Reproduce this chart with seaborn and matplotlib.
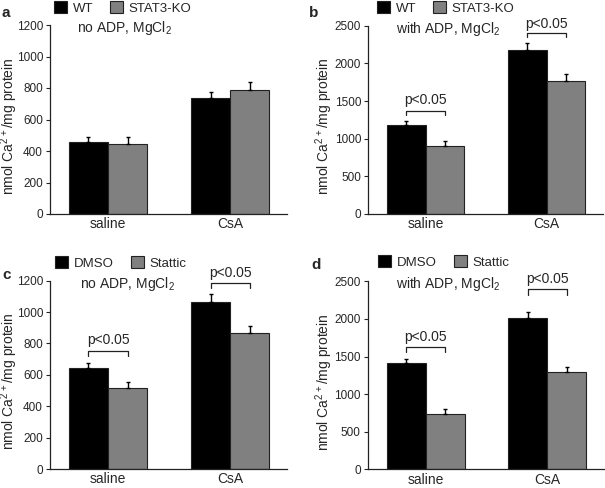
import matplotlib
matplotlib.use("Agg")
import matplotlib.pyplot as plt
import seaborn as sns
import pandas as pd
import numpy as np

sns.set_style("ticks")
plt.rcParams['font.family'] = ['Liberation Sans', 'DejaVu Sans']
plt.rcParams['mathtext.default'] = 'regular'

categories = ["saline", "CsA"]

# panel a
groups_a = ["WT", "STAT3-KO"]
a_wt = [455, 738]
a_ko = [446, 787]
a_wt_err = [32, 35]
a_ko_err = [43, 53]

# panel b
b_wt = [1182, 2174]
b_ko = [903, 1766]
b_wt_err = [57, 97]
b_ko_err = [62, 89]

# panel c
groups_c = ["DMSO", "Stattic"]
c_dm = [645, 1062]
c_st = [514, 866]
c_dm_err = [28, 53]
c_st_err = [38, 43]

# panel d
d_dm = [1413, 2016]
d_st = [739, 1290]
d_dm_err = [50, 80]
d_st_err = [59, 66]

subtitle_no = "no ADP, MgCl$_2$"
subtitle_with = "with ADP, MgCl$_2$"
ylabel = "nmol Ca$^{2+}$/mg protein"
ptext = "p<0.05"

W, H = 605, 488
fig = plt.figure(figsize=(W / 100, H / 100), dpi=100)

def px_axes(x0, x1, ytop, ybot):
    return fig.add_axes([x0 / W, 1 - ybot / H, (x1 - x0) / W, (ybot - ytop) / H])

colors = ["#000000", "#808080"]


def panel(ax, groups, v1, v2, e1, e2, ymax, ystep, subtitle, sub_x, label, lab_xy,
          leg_xy, ylab_x, brackets):
    df = pd.DataFrame({
        "cond": categories * 2,
        "group": [groups[0]] * 2 + [groups[1]] * 2,
        "value": list(v1) + list(v2),
    })
    sns.barplot(data=df, x="cond", y="value", hue="group", order=categories,
                hue_order=groups, palette=colors, width=0.64, errorbar=None,
                edgecolor="#222222", linewidth=0.8, ax=ax, saturation=1)
    bars = [p for p in ax.patches if p.get_width() > 0 and p.get_height() > 0]
    bars = sorted(bars, key=lambda p: p.get_x())
    vals = [v1[0], v2[0], v1[1], v2[1]]
    errs = [e1[0], e2[0], e1[1], e2[1]]
    centers = []
    for p, v, e in zip(bars, vals, errs):
        cx = p.get_x() + p.get_width() / 2
        centers.append(cx)
        ax.errorbar([cx], [v], yerr=[[0], [e]], fmt="none", ecolor="black",
                    elinewidth=1.0, capsize=1.5, capthick=1.0, zorder=3)
    ax.set_ylim(0, ymax)
    ax.set_yticks(np.arange(0, ymax + 1, ystep))
    ax.set_xlim(-0.475, 1.465)
    ax.set_xlabel("")
    ax.set_ylabel(ylabel, fontsize=10)
    ax.yaxis.set_label_coords(ylab_x, 0.466)
    ax.tick_params(axis="y", labelsize=8.5, length=3, width=0.8, pad=2)
    ax.tick_params(axis="x", labelsize=10, length=0, pad=2.5)
    sns.despine(ax=ax)
    for s in ["left", "bottom"]:
        ax.spines[s].set_linewidth(0.9)
        ax.spines[s].set_color("#222222")
    ax.text(sub_x, 0.985, subtitle, transform=ax.transAxes, ha="center",
            va="center", fontsize=10)
    fig.text(lab_xy[0] / W, 1 - lab_xy[1] / H, label, fontsize=11,
             fontweight="bold", ha="left", va="center")
    sns.move_legend(ax, "center left", bbox_to_anchor=(leg_xy[0] / W, 1 - leg_xy[1] / H),
                    bbox_transform=fig.transFigure, ncol=2, frameon=False,
                    title=None, fontsize=9.5, handlelength=1.0, handleheight=1.0,
                    handletextpad=0.4, columnspacing=1.3, borderpad=0,
                    borderaxespad=0)
    for gi, (ytop, ytick, ytxt) in brackets.items():
        xa, xb = centers[2 * gi], centers[2 * gi + 1]
        ax.plot([xa, xa, xb, xb], [ytick, ytop, ytop, ytick], color="#222222",
                lw=0.9, clip_on=False)
        ax.text((xa + xb) / 2, ytxt, ptext, ha="center", va="center",
                fontsize=10, clip_on=False)


ax_a = px_axes(50, 287, 25, 214)
panel(ax_a, groups_a, a_wt, a_ko, a_wt_err, a_ko_err, 1200, 200, subtitle_no, 0.316,
      "a", (2, 13), (54, 8), -0.125, {})

ax_b = px_axes(368, 603, 25.7, 214)
panel(ax_b, groups_a, b_wt, b_ko, b_wt_err, b_ko_err, 2500, 500, subtitle_with, 0.34,
      "b", (309, 13), (377, 8), -0.14,
      {0: (1372, 1315, 1514), 1: (2400, 2344, 2519)})

ax_c = px_axes(50, 287, 280.7, 469)
panel(ax_c, groups_c, c_dm, c_st, c_dm_err, c_st_err, 1200, 200, subtitle_no, 0.325,
      "c", (2, 275), (55, 263), -0.125,
      {0: (753, 722, 822), 1: (1183, 1151, 1248)})

ax_d = px_axes(367.7, 604, 281.3, 469.3)
panel(ax_d, groups_c, d_dm, d_st, d_dm_err, d_st_err, 2500, 500, subtitle_with, 0.34,
      "d", (311, 265), (378, 262), -0.14,
      {0: (1630, 1556, 1763), 1: (2394, 2318, 2527)})

fig.savefig("out.png", dpi=100)
